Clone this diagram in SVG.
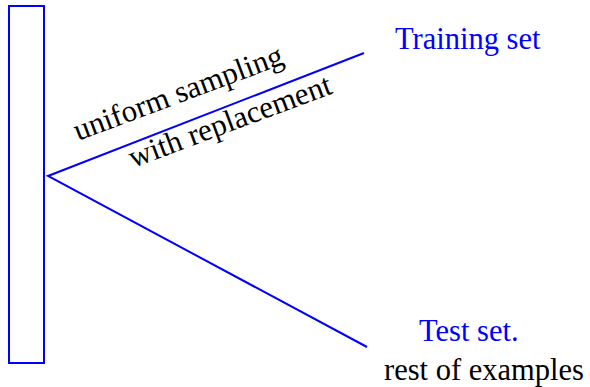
<svg xmlns="http://www.w3.org/2000/svg" width="590" height="387" viewBox="0 0 590 387">
<style>
.b{fill:none;stroke:#0000ff;stroke-width:2}
.t{font-family:"Liberation Serif","Times New Roman",serif;font-size:30.5px}
.blue{fill:#0000ff}
</style>
<rect width="590" height="387" fill="#fff"/>
<g id="data"><rect class="b" x="9" y="6" width="35" height="357"/></g>
<g id="connectors">
<polyline class="b" points="364,53 48,176 367,347"/>
</g>
<g id="label"><text class="t" transform="translate(78,141) rotate(-20.5)" style="font-size:31px">uniform sampling</text>
<text class="t" transform="translate(133,168) rotate(-20.5)" style="font-size:31px">with replacement</text></g>
<g id="train"><text class="t blue" x="395" y="49">Training set</text></g>
<g id="test"><text class="t blue" x="419" y="341">Test set.</text>
<text class="t" x="384" y="380">rest of examples</text></g>
</svg>
